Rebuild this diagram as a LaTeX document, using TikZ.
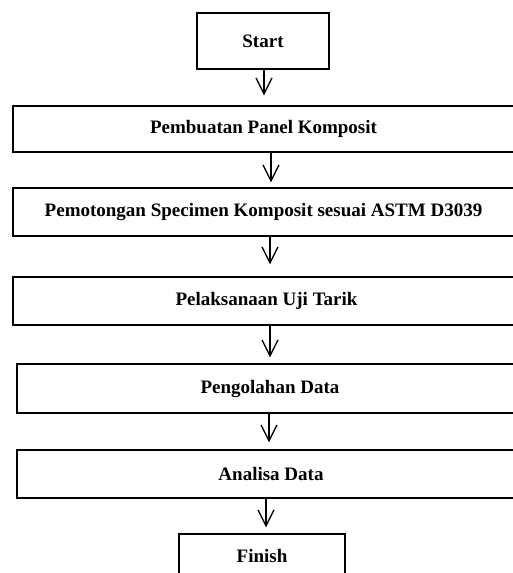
\documentclass[tikz,border=0pt]{standalone}
\usepackage{fontspec}
\setmainfont{Liberation Serif}
\usetikzlibrary{arrows.meta}
\tikzset{
  box/.style={draw=black, line width=1.3pt, fill=white, inner sep=0pt,
    font=\bfseries\fontsize{19}{22}\selectfont, text=black},
  arr/.style={draw=black, line width=1.3pt, -{Straight Barb[length=16pt,width=16pt,line width=1.3pt]}}
}
\begin{document}
\begin{tikzpicture}[x=1pt,y=-1pt]
\useasboundingbox (0,0) rectangle (512,573);
\fill[white] (0,0) rectangle (512,573);
\node[box, minimum width=132pt, minimum height=56pt] (start) at (263,41) {Start};
\node[box, minimum width=501pt, minimum height=46pt] (b1) at (263.5,129) {Pembuatan Panel Komposit};
\node[box, minimum width=501pt, minimum height=48pt] (b2) at (263.5,212) {Pemotongan Specimen Komposit sesuai ASTM D3039};
\node[box, minimum width=507pt, minimum height=48pt] (b3) at (266.5,301) {Pelaksanaan Uji Tarik};
\node[box, minimum width=506pt, minimum height=49pt] (b4) at (270,388.5) {Pengolahan Data};
\node[box, minimum width=508pt, minimum height=48pt] (b5) at (271,474) {Analisa Data};
\node[box, minimum width=166pt, minimum height=44pt] (fin) at (262,556) {Finish};
\draw[arr] ([xshift=1pt]start.south) -- ([xshift=1pt,yshift=10pt]b1.north -| start.south);
\draw[arr] ([xshift=7.5pt]b1.south) -- ([xshift=7.5pt,yshift=5pt]b2.north);
\draw[arr] ([xshift=6.5pt]b2.south) -- ([xshift=3.5pt,yshift=12pt]b3.north);
\draw[arr] ([xshift=3.5pt]b3.south) -- ([xshift=0pt,yshift=6pt]b4.north);
\draw[arr] ([xshift=-1pt]b4.south) -- ([xshift=-2pt,yshift=7pt]b5.north);
\draw[arr] ([xshift=-5pt]b5.south) -- ([xshift=4pt,yshift=6pt]fin.north);
\end{tikzpicture}
\end{document}
